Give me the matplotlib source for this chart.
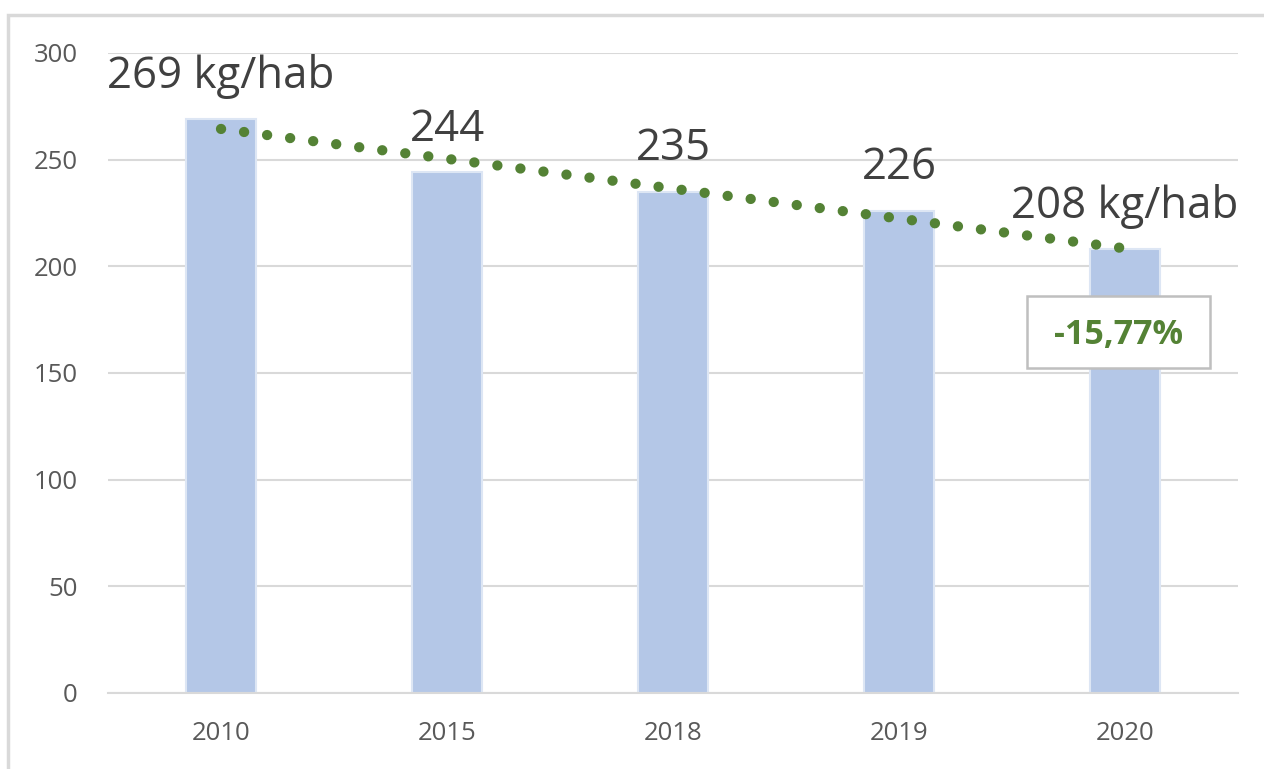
import matplotlib
matplotlib.use('Agg')
import matplotlib.pyplot as plt
import numpy as np
from matplotlib.patches import Rectangle

years = ['2010', '2015', '2018', '2019', '2020']
values = [269, 244, 235, 226, 208]
labels = ['269 kg/hab', '244', '235', '226', '208 kg/hab']
change_label = '-15,77%'

plt.rcParams['font.family'] = ['Open Sans', 'DejaVu Sans']

fig = plt.figure(figsize=(12.64, 7.69), dpi=100)
ax = fig.add_axes([108 / 1264, 1 - 693 / 769, 1130 / 1264, 640 / 769])

# outer frame of the chart (cut at right and bottom like the screenshot)
fig.patches.append(Rectangle((8 / 1264, -0.05), 1.2, 1 - 15 / 769 + 0.05,
                             transform=fig.transFigure, fill=False,
                             edgecolor='#d9d9d9', linewidth=2.5))

x = np.arange(len(years))
ax.bar(x, values, width=0.31, color='#b4c7e7', edgecolor='#dde6f4',
       linewidth=1.5, zorder=2)

# linear trend line
k, b = np.polyfit(x, values, 1)
ax.plot(x, k * x + b, color='#548235', linewidth=7.4,
        linestyle=(0, (0.01, 2.25)), dash_capstyle='round', zorder=3)

for xi, v, lab in zip(x, values, labels):
    ax.text(xi, v + 20, lab, ha='center', va='center', fontsize=31.5,
            color='#404040', zorder=4)

# box with the total change
ax.add_patch(Rectangle((3.566, 152.3), 0.81, 33.8, facecolor='white',
                       edgecolor='#bfbfbf', linewidth=1.8, zorder=5))
ax.text(3.97, 168, change_label, ha='center', va='center', fontsize=24.5,
        fontweight='bold', color='#548235', zorder=6)

ax.set_xlim(-0.5, 4.5)
ax.set_ylim(0, 300)
ax.set_yticks(range(0, 301, 50))
ax.set_xticks(x)
ax.set_xticklabels(years)
ax.tick_params(axis='both', length=0, labelsize=18.5, labelcolor='#595959')
ax.tick_params(axis='y', pad=22)
ax.tick_params(axis='x', pad=20)
ax.grid(axis='y', color='#d9d9d9', linewidth=1.5, zorder=0)
ax.set_axisbelow(True)
for s in ['top', 'right', 'left']:
    ax.spines[s].set_visible(False)
ax.spines['bottom'].set_color('#d9d9d9')
ax.spines['bottom'].set_linewidth(1.5)

fig.savefig('out.png', dpi=100)
